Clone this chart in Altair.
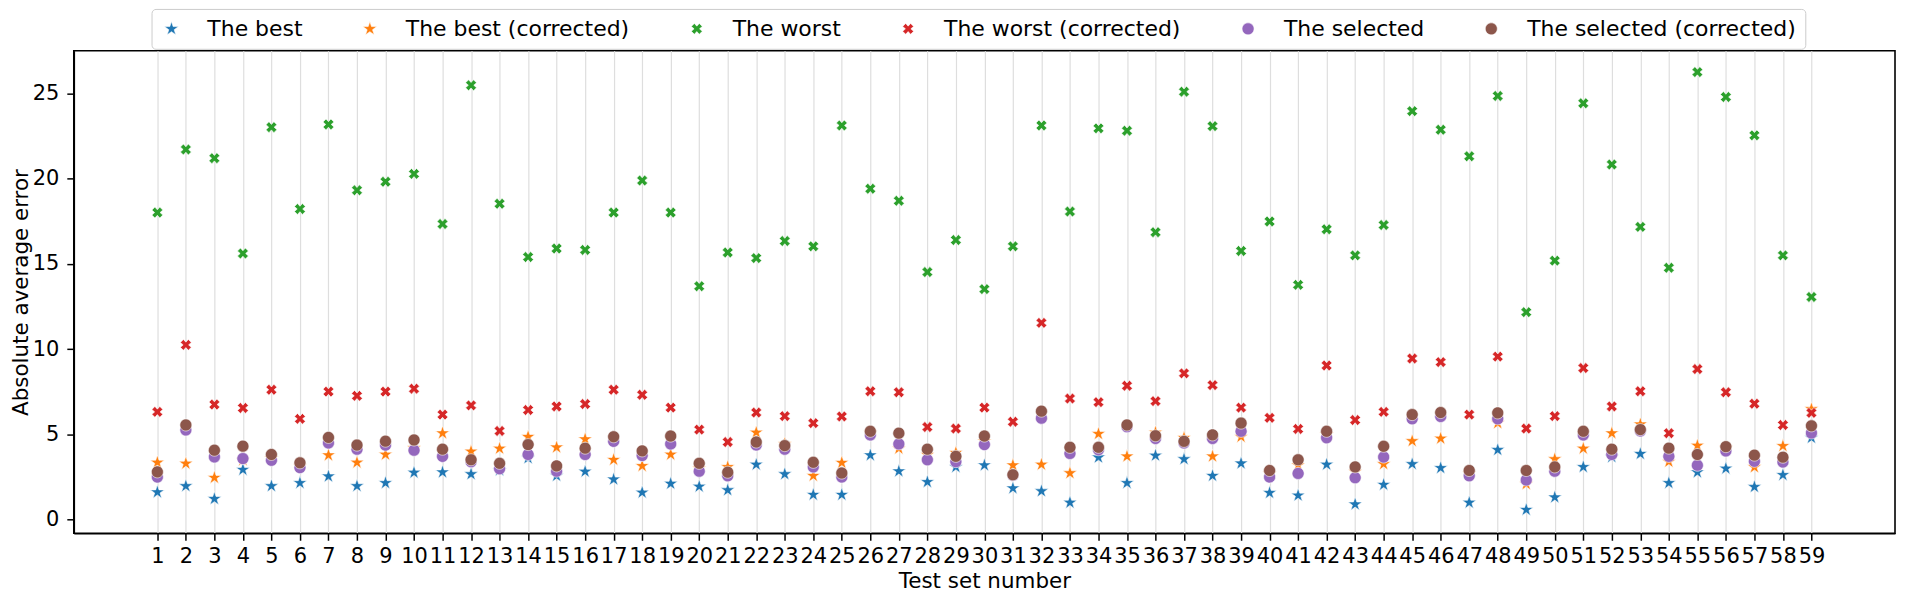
import altair as alt
import pandas as pd

test_sets = list(range(1, 60))

series_names = ["The best", "The best (corrected)", "The worst",
                "The worst (corrected)", "The selected", "The selected (corrected)"]

best = [1.61, 1.97, 1.22, 2.93, 1.97, 2.15, 2.54, 1.97, 2.15, 2.76,
        2.78, 2.67, 2.90, 3.61, 2.57, 2.82, 2.36, 1.59, 2.11, 1.94,
        1.73, 3.23, 2.67, 1.46, 1.46, 3.78, 2.84, 2.21, 3.09, 3.19,
        1.84, 1.67, 1.00, 3.65, 2.15, 3.76, 3.55, 2.57, 3.30, 1.57,
        1.42, 3.23, 0.90, 2.05, 3.26, 3.03, 1.00, 4.09, 0.58, 1.31,
        3.09, 3.67, 3.86, 2.15, 2.78, 3.00, 1.92, 2.62, 4.80]

best_corrected = [3.35, 3.29, 2.46, 3.50, 3.60, 3.15, 3.78, 3.35, 3.82, 4.20,
                  5.07, 4.00, 4.17, 4.86, 4.24, 4.72, 3.51, 3.15, 3.82, 3.00,
                  3.09, 5.11, 4.44, 2.57, 3.34, 5.10, 4.17, 3.80, 3.92, 4.60,
                  3.19, 3.23, 2.73, 5.03, 3.71, 5.11, 4.80, 3.71, 4.86, 2.70,
                  3.19, 5.00, 2.80, 3.26, 4.61, 4.76, 2.70, 5.66, 2.09, 3.55,
                  4.17, 5.07, 5.59, 3.40, 4.34, 4.20, 3.08, 4.32, 6.48]

worst = [18.01, 21.71, 21.20, 15.61, 23.02, 18.22, 23.18, 19.32, 19.82, 20.28,
         17.34, 25.48, 18.53, 15.40, 15.90, 15.82, 18.01, 19.89, 18.01, 13.69,
         15.67, 15.34, 16.34, 16.03, 23.12, 19.41, 18.70, 14.52, 16.40, 13.52,
         16.03, 23.12, 18.07, 22.95, 22.81, 16.86, 25.10, 23.08, 15.76, 17.49,
         13.77, 17.03, 15.50, 17.28, 23.96, 22.87, 21.31, 24.85, 12.17, 15.19,
         24.42, 20.83, 17.17, 14.77, 26.25, 24.79, 22.54, 15.50, 13.06]

worst_corrected = [6.32, 10.25, 6.75, 6.55, 7.62, 5.91, 7.51, 7.26, 7.51, 7.68,
                   6.16, 6.70, 5.20, 6.43, 6.64, 6.78, 7.62, 7.32, 6.57, 5.28,
                   4.55, 6.28, 6.07, 5.66, 6.05, 7.53, 7.47, 5.43, 5.34, 6.57,
                   5.74, 11.54, 7.10, 6.89, 7.85, 6.95, 8.58, 7.89, 6.57, 5.97,
                   5.32, 9.04, 5.84, 6.32, 9.45, 9.24, 6.16, 9.56, 5.34, 6.07,
                   8.89, 6.64, 7.53, 5.07, 8.83, 7.47, 6.80, 5.55, 6.26]

selected = [2.50, 5.26, 3.68, 3.58, 3.48, 3.05, 4.50, 4.13, 4.37, 4.07,
            3.71, 3.40, 2.98, 3.82, 2.84, 3.82, 4.59, 3.76, 4.44, 2.84,
            2.57, 4.38, 4.13, 3.09, 2.50, 4.97, 4.44, 3.51, 3.40, 4.40,
            2.60, 5.95, 3.88, 4.10, 5.45, 4.76, 4.50, 4.76, 5.18, 2.50,
            2.71, 4.80, 2.46, 3.67, 5.91, 6.05, 2.57, 5.91, 2.32, 2.84,
            4.97, 3.82, 5.20, 3.71, 3.19, 4.03, 3.42, 3.38, 5.08]

selected_corrected = [2.80, 5.55, 4.07, 4.31, 3.82, 3.33, 4.82, 4.37, 4.60, 4.67,
                      4.13, 3.51, 3.30, 4.40, 3.15, 4.19, 4.86, 4.03, 4.90, 3.30,
                      2.78, 4.55, 4.34, 3.36, 2.73, 5.18, 5.07, 4.13, 3.71, 4.90,
                      2.63, 6.36, 4.24, 4.24, 5.55, 4.92, 4.59, 4.97, 5.66, 2.88,
                      3.51, 5.18, 3.09, 4.30, 6.16, 6.28, 2.88, 6.26, 2.88, 3.09,
                      5.18, 4.13, 5.28, 4.19, 3.82, 4.28, 3.78, 3.66, 5.50]

colors = ["#1f77b4", "#ff7f0e", "#2ca02c", "#d62728", "#9467bd", "#8c564b"]

STAR = ("M0,-1.35L0.303,-0.417L1.284,-0.417L0.49,0.159L0.794,1.092L0,0.516"
        "L-0.794,1.092L-0.49,0.159L-1.284,-0.417L-0.303,-0.417Z")
XMARK = ("M0,-0.5L0.45,-1L1,-0.45L0.5,0L1,0.45L0.45,1L0,0.5L-0.45,1L-1,0.45L-0.5,0"
         "L-1,-0.45L-0.45,-1Z")
CIRC = "M1.1,0A1.1,1.1,0,1,1,-1.1,0A1.1,1.1,0,1,1,1.1,0Z"
shapes = [STAR, STAR, XMARK, XMARK, CIRC, CIRC]

all_series = [best, best_corrected, worst, worst_corrected, selected, selected_corrected]
rows = []
for order, (name, vals) in enumerate(zip(series_names, all_series)):
    for t, v in zip(test_sets, vals):
        rows.append({"test": t, "error": v, "series": name, "order": order})
df = pd.DataFrame(rows)

FONT = "DejaVu Sans"

chart = alt.Chart(df).mark_point(
    filled=True, opacity=1, size=120, stroke="white", strokeWidth=0.6
).encode(
    x=alt.X("test:Q",
            scale=alt.Scale(domain=[-1.93, 61.93], nice=False, zero=False),
            axis=alt.Axis(values=test_sets, title="Test set number", grid=True,
                          gridColor="#dedede", gridWidth=1.2,
                          labelOverlap=False, labelFlush=False, labelBound=False,
                          labelPadding=5, titlePadding=4, format="d")),
    y=alt.Y("error:Q",
            scale=alt.Scale(domain=[-0.8, 27.5], nice=False, zero=False),
            axis=alt.Axis(values=[0, 5, 10, 15, 20, 25], title="Absolute average error",
                          grid=False, labelPadding=8, titlePadding=0)),
    color=alt.Color("series:N", scale=alt.Scale(domain=series_names, range=colors),
                    legend=alt.Legend(orient="none", legendX=78, legendY=-42,
                                      direction="horizontal", columns=6, title=None,
                                      symbolSize=120, labelFontSize=22, labelFont=FONT,
                                      labelColor="black", labelOffset=25, labelLimit=500,
                                      columnPadding=56, padding=9,
                                      strokeColor="#cccccc", fillColor="white",
                                      cornerRadius=4, symbolStrokeColor="white",
                                      symbolStrokeWidth=0.6, symbolOpacity=1)),
    shape=alt.Shape("series:N", scale=alt.Scale(domain=series_names, range=shapes),
                    legend=None),
    order=alt.Order("order:Q"),
).properties(
    width=1827, height=484,
    autosize=alt.AutoSizeParams(type="none"),
    padding={"left": 66, "top": 42, "right": 2, "bottom": 58},
).configure_view(
    stroke="black", strokeWidth=1.6
).configure_axis(
    domainColor="black", domainWidth=1.6, tickColor="black", tickSize=7, tickWidth=1.5,
    labelFont=FONT, labelFontSize=21, labelColor="black",
    titleFont=FONT, titleFontSize=21.5, titleFontWeight="normal", titleColor="black",
)

chart.save("out.html", embed_options={"renderer": "svg", "actions": False})
